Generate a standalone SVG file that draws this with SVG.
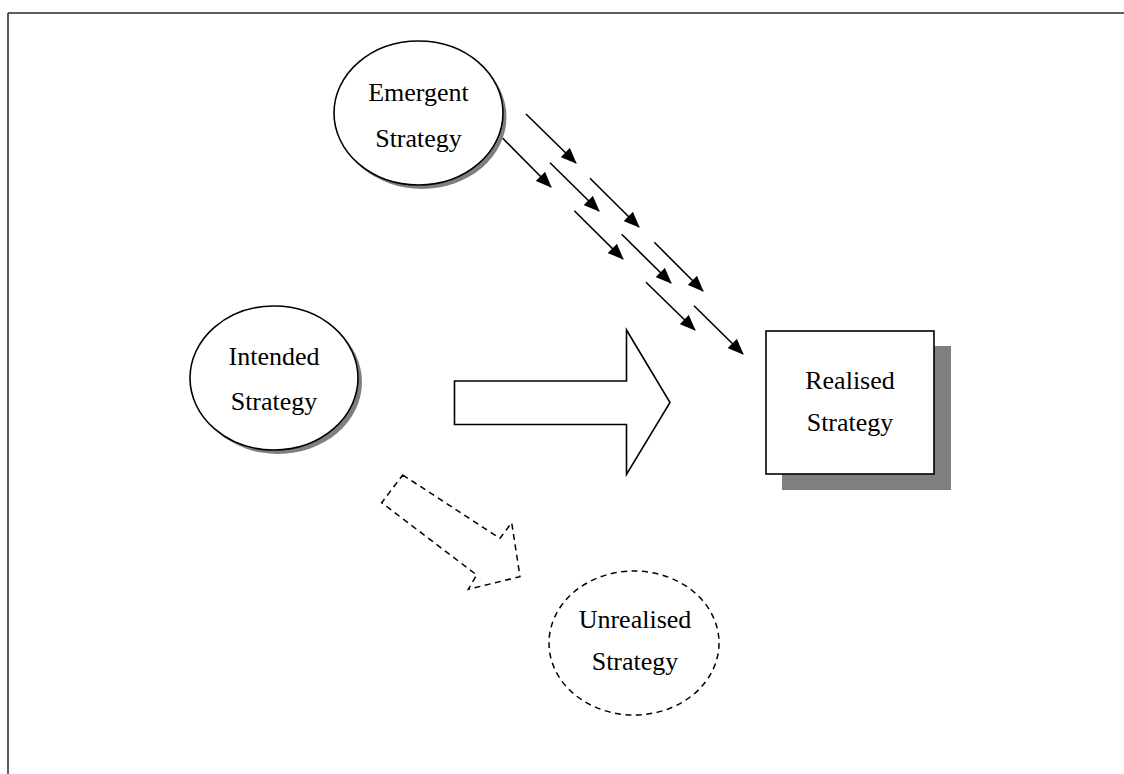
<svg xmlns="http://www.w3.org/2000/svg" width="1124" height="774" viewBox="0 0 1124 774">
  <defs>
    <style>
      .frame { stroke: #2a2a2a; stroke-width: 1.5; fill: none; }
      .node { fill: #ffffff; stroke: #000000; stroke-width: 1.6; }
      .dashed { fill: #ffffff; stroke: #000000; stroke-width: 1.5; stroke-dasharray: 6 4.5; }
      .shadow { fill: #7f7f7f; stroke: none; }
      .label { font-family: "Liberation Serif", "Times New Roman", serif; font-size: 26px; fill: #000000; text-anchor: middle; }
      .flow { stroke: #000000; stroke-width: 1.6; fill: none; marker-end: url(#head); }
    </style>
    <marker id="head" markerWidth="16" markerHeight="13" refX="15" refY="6.5" orient="auto" markerUnits="userSpaceOnUse">
      <path d="M0,0 L16,6.5 L0,13 Z" fill="#000000"/>
    </marker>
  </defs>

  <rect width="1124" height="774" fill="#ffffff"/>

  <!-- page frame: top and left rules -->
  <path class="frame" d="M8,13 H1124 M8,13 V774"/>

  <g id="emergent">
    <ellipse class="shadow" cx="422" cy="117" rx="84.5" ry="72"/>
    <ellipse class="node" cx="418.5" cy="113" rx="84.5" ry="72"/>
    <text class="label" x="418.5" y="101">Emergent</text>
    <text class="label" x="418.5" y="147">Strategy</text>
  </g>

  <g id="intended">
    <ellipse class="shadow" cx="278" cy="382" rx="84" ry="72"/>
    <ellipse class="node" cx="274" cy="378" rx="84" ry="72"/>
    <text class="label" x="274" y="365">Intended</text>
    <text class="label" x="274" y="410">Strategy</text>
  </g>

  <g id="realised">
    <rect class="shadow" x="782" y="346" width="169" height="144"/>
    <rect class="node" x="766" y="331" width="168" height="143"/>
    <text class="label" x="850" y="389">Realised</text>
    <text class="label" x="850" y="431">Strategy</text>
  </g>

  <g id="unrealised">
    <ellipse class="dashed" cx="634" cy="643" rx="85" ry="72"/>
    <text class="label" x="635" y="628">Unrealised</text>
    <text class="label" x="635" y="670">Strategy</text>
  </g>

  <g id="connectors">
    <!-- deliberate strategy: block arrow -->
    <polygon class="node" points="454.5,381 626.5,381 626.5,330 670,402.5 626.5,474.5 626.5,424.5 454.5,424.5"/>
    <!-- unrealised path: dashed block arrow -->
    <polygon class="dashed" points="402.7,475 500,538.3 511.7,522.7 520,576.7 468.3,589.3 476.7,575 381.7,502.7"/>
    <!-- emergent strategy streams -->
    <line class="flow" x1="526" y1="114" x2="576" y2="163"/>
    <line class="flow" x1="502.7" y1="138.3" x2="551" y2="187"/>
    <line class="flow" x1="550" y1="162.7" x2="599" y2="211"/>
    <line class="flow" x1="590" y1="178.3" x2="639" y2="227"/>
    <line class="flow" x1="574.3" y1="210.7" x2="623" y2="259"/>
    <line class="flow" x1="621.7" y1="234.3" x2="671" y2="283"/>
    <line class="flow" x1="654.3" y1="242.3" x2="703" y2="291"/>
    <line class="flow" x1="646" y1="282.3" x2="695" y2="330"/>
    <line class="flow" x1="694" y1="305.7" x2="743" y2="354"/>
  </g>
</svg>
